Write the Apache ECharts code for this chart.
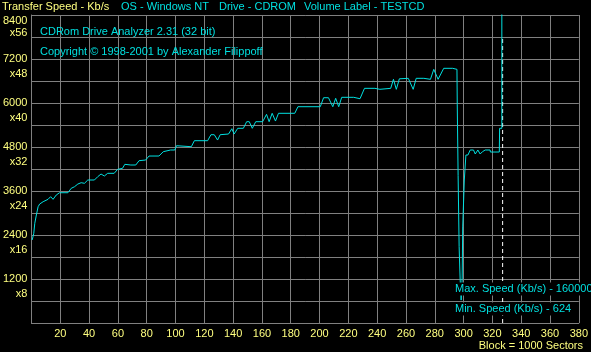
<!DOCTYPE html>
<html>
<head>
<meta charset="utf-8">
<script src="https://cdn.jsdelivr.net/npm/echarts@6/dist/echarts.min.js"></script>
<style>
html,body{margin:0;padding:0;background:#000;}
#c{width:591px;height:352px;}
</style>
</head>
<body>
<div id="c"></div>
<script>
// Block (x1000 sectors)
var sectors = [0.5,1.6,2.3,3.4,4.6,5.7,8.1,11.5,13.3,15,17.2,19.5,25.3,27.6,29.9,32.2,34.5,36.8,39.1,43.7,46,48.3,50.6,52.9,57.4,59.8,63.2,64.8,69,72.4,74.7,79.3,81.6,88.5,91.5,96.6,99.5,100.7,111,113.1,122.3,124.6,126.9,129.2,131,136.8,139.1,140.7,143.2,147.1,149.4,151.2,153.3,155.7,160.5,163.2,165,167.1,169.4,171.5,182.8,185,200.5,202.8,206.2,209.2,211.2,213.3,215.4,223.7,224.8,228.1,231.2,238.4,239.1,241.9,242.6,249.4,251.3,253.3,255.4,261.6,265,267.1,272.4,277,279.3,282.3,283.4,286.2,292.4,295.4,295.6,296.2,296.9,297.6,298.3,299.0,299.4,300.5,301.6,303,304.6,305.7,306.9,308.1,309.9,311.5,313.1,315,318.4,318.6,324.8,325,326.55,326.6];
// Transfer speed (Kb/s)
var speeds = [2264,2446,2719,2945,3172,3245,3308,3373,3445,3373,3490,3553,3553,3673,3717,3790,3826,3810,3900,3900,3990,4063,4009,4082,4082,4190,4218,4327,4309,4309,4427,4445,4554,4554,4672,4718,4718,4835,4808,4972,4972,5135,5135,4990,5135,5154,5299,5154,5310,5310,5490,5490,5310,5490,5490,5691,5490,5719,5508,5719,5719,5899,5899,6144,6144,5899,6128,5899,6155,6155,6117,6117,6400,6400,6373,6373,6400,6400,6646,6373,6660,6673,6373,6673,6673,6646,6918,6646,6673,6946,6946,6918,5950,4020,2080,1200,624,1200,2620,3900,4581,4581,4718,4672,4718,4609,4718,4609,4672,4718,4718,4663,4663,5310,5310,1600000];
var endMarker = [327.1];
var headerTexts = ['Transfer Speed - Kb/s','OS - Windows NT','Drive - CDROM','Volume Label - TESTCD'];
var infoTexts = ['CDRom Drive Analyzer 2.31 (32 bit)','Copyright \u00A9 1998-2001 by Alexander Filippoff'];
var maxMinTexts = ['Max. Speed (Kb/s) - 1600000','Min. Speed (Kb/s) - 624'];
var xUnitText = 'Block = 1000 Sectors';

var YEL = '#ffff80', CYA = '#00e0e0', GRID = '#808080';
var FONT = 'Liberation Sans';
var fontStr = '11px "Liberation Sans"';

var data = sectors.map(function(s,i){return [s, speeds[i]];});

var chart = echarts.init(document.getElementById('c'), null, {renderer:'canvas'});
chart.setOption({
  backgroundColor:'#000',
  animation:false,
  grid:{left:30,right:10,top:15,bottom:29,containLabel:false},
  xAxis:{
    type:'value',min:0,max:380,interval:20,
    axisLine:{show:true,lineStyle:{color:GRID,width:1}},
    axisTick:{show:false},
    splitLine:{show:true,lineStyle:{color:GRID,width:1}},
    axisLabel:{color:YEL,fontSize:11,fontFamily:FONT,margin:5,
      formatter:function(v){return v===0?'':String(v);}}
  },
  yAxis:[{
    type:'value',min:0,max:8400,interval:600,position:'left',
    axisLine:{show:true,lineStyle:{color:GRID,width:1}},
    axisTick:{show:false},
    splitLine:{show:true,lineStyle:{color:GRID,width:1}},
    axisLabel:{color:YEL,fontSize:11,fontFamily:FONT,margin:4,
      formatter:function(v){
        if(v===0||v%1200!==0) return '';
        return v===8400?'{t|'+v+'}':'{n|'+v+'}';
      },
      rich:{t:{color:YEL,fontSize:11,fontFamily:FONT,padding:[12,0,0,0]},
            n:{color:YEL,fontSize:11,fontFamily:FONT}}
    }
  },{
    type:'value',min:0,max:8400,interval:600,position:'left',
    axisLine:{show:false},axisTick:{show:false},splitLine:{show:false},
    axisLabel:{color:YEL,fontSize:11,fontFamily:FONT,margin:4,
      formatter:function(v){
        if(v===0||v%1200!==0) return '';
        return v===8400?'{t|x'+(v/150)+'}':'{n|x'+(v/150)+'}';
      },
      rich:{t:{color:YEL,fontSize:11,fontFamily:FONT,padding:[35,0,0,0]},
            n:{color:YEL,fontSize:11,fontFamily:FONT,padding:[29,0,0,0]}}
    }
  }],
  series:[{
    type:'line',data:[[endMarker[0],0],[endMarker[0],7800]],showSymbol:false,symbol:'none',
    lineStyle:{color:'#ffffff',type:[4,3],width:1},z:2,silent:true
  },{
    type:'line',data:data,showSymbol:false,symbol:'none',clip:true,
    lineStyle:{color:CYA,width:1},itemStyle:{color:CYA},
    z:3
  }],
  graphic:[
    {type:'text',x:2,y:7,style:{text:headerTexts[0],fill:YEL,font:fontStr,verticalAlign:'middle'}},
    {type:'text',x:121,y:7,style:{text:headerTexts[1],fill:CYA,font:fontStr,verticalAlign:'middle'}},
    {type:'text',x:219,y:7,style:{text:headerTexts[2],fill:CYA,font:fontStr,verticalAlign:'middle'}},
    {type:'text',x:304,y:7,style:{text:headerTexts[3],fill:CYA,font:fontStr,verticalAlign:'middle'}},
    {type:'text',x:40,y:32,z:10,style:{text:infoTexts[0],fill:CYA,font:fontStr,verticalAlign:'middle'}},
    {type:'text',x:40,y:52,z:10,style:{text:infoTexts[1],fill:CYA,font:fontStr,verticalAlign:'middle'}},
    {type:'text',x:455,y:289,z:10,style:{text:maxMinTexts[0],fill:CYA,font:fontStr,verticalAlign:'middle',backgroundColor:'#000',padding:[1,2,1,0]}},
    {type:'text',x:455,y:309,z:10,style:{text:maxMinTexts[1],fill:CYA,font:fontStr,verticalAlign:'middle',backgroundColor:'#000',padding:[1,3,1,0]}},
    {type:'text',x:583,y:346,style:{text:xUnitText,fill:YEL,font:fontStr,align:'right',verticalAlign:'middle'}}
  ]
});
</script>
</body>
</html>
